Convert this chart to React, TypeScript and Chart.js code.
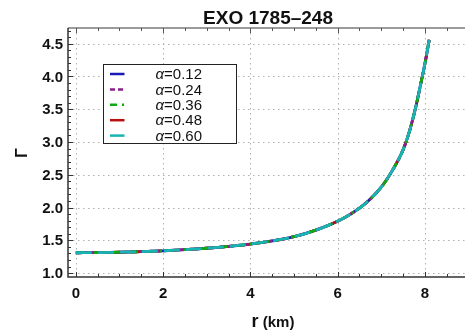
import React, { useEffect, useRef } from 'react';
import { Chart, registerables } from 'chart.js';

Chart.register(...registerables);

const titleText = 'EXO 1785–248';
const xAxisLabel = 'r';
const xAxisUnit = ' (km)';
const yAxisLabel = 'Γ';

const rValues = [0, 0.5, 1, 1.5, 2, 2.5, 3, 3.5, 4, 4.5, 5, 5.5, 6, 6.25, 6.5, 6.75, 7, 7.25, 7.5, 7.65, 7.8, 7.9, 8.0, 8.1];
const gamma012 = [1.31, 1.312, 1.318, 1.327, 1.34, 1.357, 1.379, 1.407, 1.443, 1.49, 1.555, 1.655, 1.79, 1.88, 1.99, 2.13, 2.31, 2.56, 2.88, 3.17, 3.56, 3.87, 4.19, 4.56];
const gamma024 = [1.31, 1.312, 1.318, 1.327, 1.34, 1.357, 1.379, 1.407, 1.443, 1.49, 1.555, 1.655, 1.79, 1.88, 1.99, 2.13, 2.31, 2.56, 2.88, 3.17, 3.56, 3.87, 4.19, 4.56];
const gamma036 = [1.31, 1.312, 1.318, 1.327, 1.34, 1.357, 1.379, 1.407, 1.443, 1.49, 1.555, 1.655, 1.79, 1.88, 1.99, 2.13, 2.31, 2.56, 2.88, 3.17, 3.56, 3.87, 4.19, 4.56];
const gamma048 = [1.31, 1.312, 1.318, 1.327, 1.34, 1.357, 1.379, 1.407, 1.443, 1.49, 1.555, 1.655, 1.79, 1.88, 1.99, 2.13, 2.31, 2.56, 2.88, 3.17, 3.56, 3.87, 4.19, 4.56];
const gamma060 = [1.31, 1.312, 1.318, 1.327, 1.34, 1.357, 1.379, 1.407, 1.443, 1.49, 1.555, 1.655, 1.79, 1.88, 1.99, 2.13, 2.31, 2.56, 2.88, 3.17, 3.56, 3.87, 4.19, 4.56];

const seriesLabels = ['α=0.12', 'α=0.24', 'α=0.36', 'α=0.48', 'α=0.60'];
const seriesValues = [gamma012, gamma024, gamma036, gamma048, gamma060];
const seriesColors = ['#1a1ab4', '#8c1e8c', '#10aa10', '#b81010', '#18b4b4'];
const seriesDashes: number[][] = [[], [5, 3], [8, 4, 2, 4], [14, 4], [16, 6]];
// lower = drawn on top
const seriesOrder = [4, 2, 1, 3, 0];

const xTicks = [0, 2, 4, 6, 8];
const yTicks = [1.0, 1.5, 2.0, 2.5, 3.0, 3.5, 4.0, 4.5];
const xMinorStep = 0.5;
const yMinorStep = 0.1;
const xRange = [-0.18, 8.92];
const yRange = [0.94, 4.74];

const FONT = '"Liberation Sans", Arial, Helvetica, sans-serif';

const framePlugin = {
  id: 'mmaFrame',
  beforeDatasetsDraw(chart: any) {
    const { ctx, chartArea: a, scales } = chart;
    const x = scales.x;
    const y = scales.y;
    ctx.save();
    ctx.strokeStyle = '#b0b0b0';
    ctx.lineWidth = 1;
    ctx.setLineDash([1.5, 3.5]);
    for (const v of xTicks) {
      const px = Math.round(x.getPixelForValue(v)) + 0.5;
      ctx.beginPath();
      ctx.moveTo(px, a.top);
      ctx.lineTo(px, a.bottom);
      ctx.stroke();
    }
    for (const v of yTicks) {
      const py = Math.round(y.getPixelForValue(v)) + 0.5;
      ctx.beginPath();
      ctx.moveTo(a.left, py);
      ctx.lineTo(a.right, py);
      ctx.stroke();
    }
    ctx.restore();
  },
  afterDatasetsDraw(chart: any) {
    const { ctx, chartArea: a, scales } = chart;
    const x = scales.x;
    const y = scales.y;
    ctx.save();
    ctx.setLineDash([]);
    ctx.lineWidth = 1.5;
    ctx.strokeStyle = '#7a7a7a';
    ctx.beginPath();
    ctx.moveTo(a.left, a.top);
    ctx.lineTo(a.right, a.top);
    ctx.stroke();
    ctx.strokeStyle = '#333';
    ctx.beginPath();
    ctx.moveTo(a.left, a.top);
    ctx.lineTo(a.left, a.bottom);
    ctx.lineTo(a.right, a.bottom);
    ctx.stroke();
    ctx.lineWidth = 1;
    const isMajor = (v: number, arr: number[]) => arr.some((t) => Math.abs(t - v) < 1e-6);
    for (let i = Math.ceil(xRange[0] / xMinorStep); i * xMinorStep <= xRange[1]; i++) {
      const v = i * xMinorStep;
      const len = isMajor(v, xTicks) ? 5 : 3;
      const px = Math.round(x.getPixelForValue(v)) + 0.5;
      ctx.strokeStyle = '#333';
      ctx.beginPath();
      ctx.moveTo(px, a.bottom);
      ctx.lineTo(px, a.bottom - len);
      ctx.stroke();
      ctx.strokeStyle = '#555';
      ctx.beginPath();
      ctx.moveTo(px, a.top);
      ctx.lineTo(px, a.top + len);
      ctx.stroke();
    }
    ctx.strokeStyle = '#333';
    for (let i = Math.ceil(yRange[0] / yMinorStep); i * yMinorStep <= yRange[1] + 1e-9; i++) {
      const v = i * yMinorStep;
      const len = isMajor(v, yTicks) ? 5 : 3;
      const py = Math.round(y.getPixelForValue(v)) + 0.5;
      ctx.beginPath();
      ctx.moveTo(a.left, py);
      ctx.lineTo(a.left + len, py);
      ctx.stroke();
    }
    ctx.restore();
  },
  afterDraw(chart: any) {
    const { ctx, chartArea: a, scales } = chart;
    const x = scales.x;
    const y = scales.y;
    ctx.save();
    ctx.fillStyle = '#111';
    ctx.font = `bold 15px ${FONT}`;
    ctx.textAlign = 'right';
    ctx.textBaseline = 'middle';
    for (const v of yTicks) {
      ctx.fillText(v.toFixed(1), a.left - 5, y.getPixelForValue(v) + 1);
    }
    ctx.textAlign = 'center';
    for (const v of xTicks) {
      ctx.fillText(String(v), x.getPixelForValue(v), a.bottom + 17);
    }
    ctx.font = `bold 19px ${FONT}`;
    ctx.textBaseline = 'alphabetic';
    ctx.fillText(titleText, 268, 24);
    ctx.font = `bold 18px ${FONT}`;
    const w1 = ctx.measureText(xAxisLabel).width;
    ctx.font = `bold 15px ${FONT}`;
    const w2 = ctx.measureText(xAxisUnit).width;
    const sx = 273 - (w1 + w2) / 2;
    ctx.textAlign = 'left';
    ctx.font = `bold 18px ${FONT}`;
    ctx.fillText(xAxisLabel, sx, 327);
    ctx.font = `bold 15px ${FONT}`;
    ctx.fillText(xAxisUnit, sx + w1, 327);
    ctx.save();
    ctx.translate(22.5, 153);
    ctx.rotate(-Math.PI / 2);
    ctx.font = `bold 16px ${FONT}`;
    ctx.textAlign = 'center';
    ctx.textBaseline = 'middle';
    ctx.fillText(yAxisLabel, 0, 0);
    ctx.restore();
    const bx = 103.5, by = 64.5, bw = 133, bh = 79;
    ctx.fillStyle = '#fff';
    ctx.fillRect(bx, by, bw, bh);
    ctx.strokeStyle = '#222';
    ctx.lineWidth = 1;
    ctx.strokeRect(bx, by, bw, bh);
    chart.data.datasets.forEach((ds: any, i: number) => {
      const cy = 74 + i * 15.4;
      ctx.strokeStyle = ds.borderColor;
      ctx.lineWidth = 2.5;
      ctx.setLineDash(i === 1 ? [5, 3] : i === 2 ? [7, 5, 2, 20] : []);
      ctx.beginPath();
      ctx.moveTo(110, cy);
      ctx.lineTo(124.5, cy);
      ctx.stroke();
      ctx.setLineDash([]);
      const label: string = ds.label;
      ctx.fillStyle = '#111';
      ctx.textAlign = 'left';
      ctx.textBaseline = 'middle';
      ctx.font = `italic 15px ${FONT}`;
      const g = label.slice(0, 1);
      ctx.fillText(g, 155.5, cy + 1);
      const gw = ctx.measureText(g).width;
      ctx.font = `15px ${FONT}`;
      ctx.fillText(label.slice(1), 155.5 + gw, cy + 1);
    });
    ctx.restore();
  },
};

export default function App() {
  const canvasRef = useRef<HTMLCanvasElement | null>(null);
  useEffect(() => {
    if (!canvasRef.current) return;
    const datasets = seriesLabels.map((label, i) => ({
      label,
      data: rValues.map((r, j) => ({ x: r, y: seriesValues[i][j] })),
      borderColor: seriesColors[i],
      backgroundColor: seriesColors[i],
      borderWidth: 2.8,
      borderDash: seriesDashes[i],
      pointRadius: 0,
      fill: false,
      order: seriesOrder[i],
      cubicInterpolationMode: 'monotone' as const,
    }));
    const chart = new Chart(canvasRef.current, {
      type: 'line',
      data: { datasets },
      options: {
        animation: false,
        responsive: false,
        devicePixelRatio: 1,
        layout: { padding: { left: 68, top: 28, right: 0, bottom: 57 } },
        plugins: { legend: { display: false }, title: { display: false }, tooltip: { enabled: false } },
        scales: {
          x: { type: 'linear', min: xRange[0], max: xRange[1], display: false },
          y: { type: 'linear', min: yRange[0], max: yRange[1], display: false },
        },
      },
      plugins: [framePlugin],
    });
    return () => chart.destroy();
  }, []);
  return (
    <div style={{ position: 'fixed', left: 0, top: 0, width: 465, height: 334, background: '#fff' }}>
      <canvas ref={canvasRef} width={465} height={334} style={{ display: 'block' }} />
    </div>
  );
}
